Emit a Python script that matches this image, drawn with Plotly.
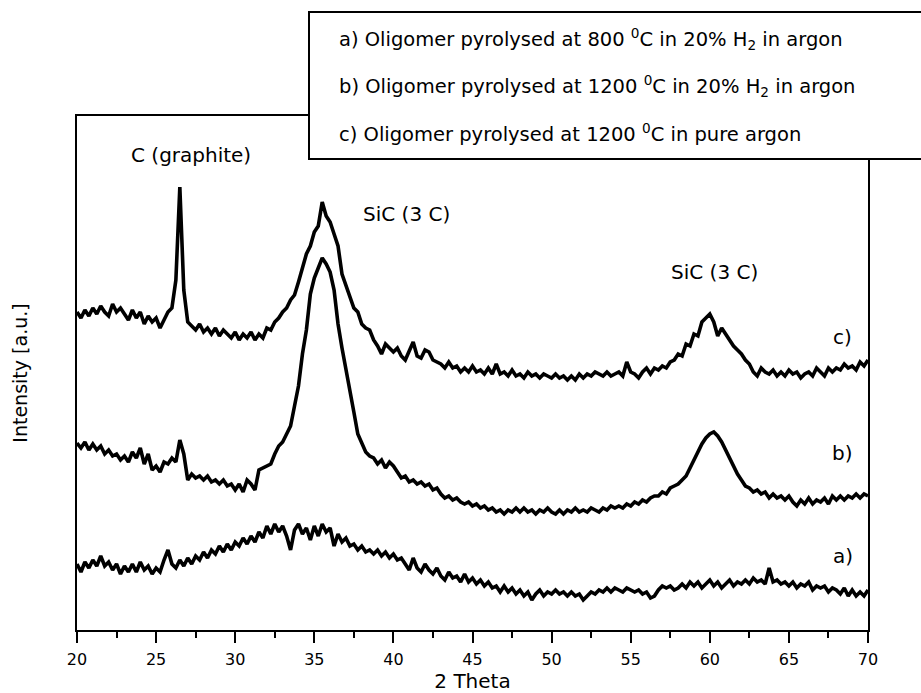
import plotly.graph_objects as go

# 2-theta grid start/step (degrees)
two_theta_start = 20.0
two_theta_step = 0.25

# c) Oligomer pyrolysed at 1200 C in pure argon (offset curve, a.u.)
intensity_c = [
    318, 312, 320, 314, 322, 316, 324, 318, 314, 326, 318, 322, 316, 310, 320, 312,
    318, 306, 314, 308, 312, 302, 310, 318, 322, 350, 443, 340, 308, 304, 300, 306,
    298, 302, 296, 302, 294, 300, 296, 292, 298, 290, 296, 292, 298, 290, 296, 292,
    302, 300, 308, 312, 318, 322, 330, 335, 348, 362, 376, 384, 398, 404, 428, 414,
    408, 396, 384, 356, 344, 332, 322, 318, 306, 302, 300, 290, 284, 276, 286, 282,
    278, 282, 274, 270, 280, 288, 274, 272, 280, 278, 270, 268, 266, 262, 268, 262,
    264, 258, 262, 258, 264, 258, 260, 256, 262, 256, 266, 256, 258, 254, 260, 254,
    256, 252, 258, 254, 256, 252, 256, 254, 252, 256, 252, 254, 250, 254, 250, 256,
    252, 256, 254, 258, 256, 254, 258, 254, 256, 258, 254, 268, 258, 256, 252, 258,
    262, 256, 262, 260, 264, 262, 268, 270, 276, 274, 286, 284, 296, 294, 308, 312,
    316, 308, 294, 302, 296, 290, 284, 280, 276, 270, 266, 258, 254, 262, 258, 256,
    260, 254, 258, 254, 260, 256, 258, 252, 256, 258, 254, 262, 258, 254, 262, 258,
    262, 260, 266, 262, 264, 260, 268, 264, 270,
]

# b) Oligomer pyrolysed at 1200 C in 20% H2 in argon
intensity_b = [
    187, 182, 188, 180, 186, 180, 184, 176, 180, 174, 176, 170, 174, 168, 178, 172,
    182, 166, 176, 160, 164, 158, 168, 166, 172, 168, 190, 176, 150, 156, 152, 154,
    150, 154, 148, 150, 146, 150, 144, 146, 140, 146, 138, 150, 146, 140, 160, 162,
    164, 166, 176, 184, 188, 196, 204, 224, 244, 276, 300, 336, 352, 362, 372, 366,
    358, 340, 306, 282, 262, 242, 218, 196, 186, 178, 174, 172, 166, 170, 162, 168,
    164, 158, 152, 154, 148, 150, 146, 148, 144, 146, 140, 142, 136, 132, 134, 130,
    132, 128, 126, 128, 124, 126, 122, 124, 120, 122, 118, 120, 116, 120, 118, 122,
    118, 122, 118, 120, 116, 120, 118, 122, 118, 116, 120, 116, 120, 118, 122, 118,
    120, 118, 122, 120, 118, 122, 120, 124, 122, 124, 122, 126, 124, 128, 126, 130,
    128, 132, 134, 134, 138, 136, 142, 144, 146, 150, 154, 162, 170, 178, 186, 192,
    196, 198, 194, 188, 180, 172, 166, 156, 150, 144, 142, 138, 140, 136, 138, 132,
    136, 132, 134, 130, 134, 128, 124, 130, 126, 132, 126, 130, 128, 132, 126, 134,
    130, 134, 130, 134, 132, 136, 132, 136, 134,
]

# a) Oligomer pyrolysed at 800 C in 20% H2 in argon
intensity_a = [
    66, 58, 68, 62, 70, 64, 74, 64, 68, 60, 66, 56, 64, 58, 66, 58,
    68, 60, 64, 56, 62, 58, 70, 80, 66, 62, 70, 64, 72, 66, 74, 70,
    78, 72, 80, 76, 84, 78, 86, 80, 88, 84, 92, 86, 94, 88, 98, 92,
    104, 96, 106, 98, 104, 94, 80, 100, 106, 96, 102, 90, 104, 94, 106, 98,
    102, 84, 96, 88, 92, 84, 86, 80, 84, 78, 80, 76, 80, 74, 78, 72,
    76, 70, 72, 66, 60, 72, 62, 58, 66, 60, 56, 62, 54, 50, 58, 52,
    54, 48, 56, 48, 52, 46, 50, 44, 48, 42, 44, 38, 44, 38, 42, 36,
    40, 34, 38, 30, 36, 40, 34, 38, 36, 40, 36, 38, 34, 38, 34, 36,
    30, 34, 38, 36, 40, 38, 42, 38, 42, 40, 38, 42, 40, 38, 40, 36,
    38, 32, 34, 40, 44, 42, 44, 40, 42, 46, 42, 48, 44, 48, 42, 46,
    50, 44, 48, 42, 46, 50, 44, 48, 46, 50, 46, 52, 48, 50, 46, 62,
    48, 50, 46, 48, 44, 48, 42, 46, 44, 48, 40, 44, 42, 44, 38, 42,
    40, 36, 42, 34, 40, 34, 38, 34, 40,
]

legend_lines = [
    "a) Oligomer pyrolysed at 800 <sup>0</sup>C in 20% H<sub>2</sub> in argon",
    "b) Oligomer pyrolysed at 1200 <sup>0</sup>C in 20% H<sub>2</sub> in argon",
    "c) Oligomer pyrolysed at 1200 <sup>0</sup>C in pure argon",
]
curve_labels = ["a)", "b)", "c)"]
peak_labels = ["C (graphite)", "SiC (3 C)", "SiC (3 C)"]
x_ticks = [20, 25, 30, 35, 40, 45, 50, 55, 60, 65, 70]


def grid(n):
    return [two_theta_start + two_theta_step * i for i in range(n)]


FONT = "DejaVu Sans, Arial, sans-serif"
fig = go.Figure()
for ys in (intensity_a, intensity_b, intensity_c):
    fig.add_trace(go.Scatter(x=grid(len(ys)), y=ys, mode="lines",
                             line=dict(color="black", width=3.6),
                             showlegend=False, hoverinfo="skip"))

# plot area in pixels: x 77..868, y 116..630
L, R, T, B = 77, 868, 116, 630
W, H = R - L, B - T


def px(xp):
    return (xp - L) / W


def py(yp):
    return (B - yp) / H


annotations = []
# in-plot labels (data coordinates)
annotations.append(dict(x=27.2, y=630 - 155, text=peak_labels[0]))
annotations.append(dict(x=40.8, y=630 - 214, text=peak_labels[1]))
annotations.append(dict(x=60.3, y=630 - 272, text=peak_labels[2]))
annotations.append(dict(x=68.4, y=630 - 556, text=curve_labels[0]))
annotations.append(dict(x=68.4, y=630 - 453, text=curve_labels[1]))
annotations.append(dict(x=68.4, y=630 - 337, text=curve_labels[2]))
for a in annotations:
    a.update(xref="x", yref="y", showarrow=False,
             font=dict(family=FONT, size=20, color="black"))

for i, (txt, yp) in enumerate(zip(legend_lines, [39, 86, 133])):
    annotations.append(dict(x=px(337), y=py(yp), xref="paper", yref="paper",
                            text=txt, showarrow=False, xanchor="left",
                            yanchor="middle",
                            font=dict(family=FONT, size=19.5, color="black")))

fig.update_layout(
    width=921, height=693,
    margin=dict(l=L, r=921 - R, t=T, b=693 - B),
    paper_bgcolor="white", plot_bgcolor="white",
    font=dict(family=FONT, color="black"),
    annotations=annotations,
    shapes=[dict(type="rect", xref="paper", yref="paper",
                 x0=px(309), x1=px(930), y0=py(159), y1=py(12),
                 fillcolor="white", line=dict(color="black", width=2),
                 layer="above")],
    xaxis=dict(range=[20, 70], tickvals=x_ticks, ticks="outside", ticklen=11,
               tickwidth=2, tickcolor="black", showline=True, linewidth=2,
               linecolor="black", mirror=True, showgrid=False, zeroline=False,
               ticklabelstandoff=3, automargin=False,
               tickfont=dict(family=FONT, size=16, color="black"),
               minor=dict(dtick=2.5, tick0=20, ticks="outside", ticklen=6,
                          tickwidth=2, tickcolor="black", showgrid=False),
               title=dict(text="2 Theta", standoff=4,
                          font=dict(family=FONT, size=20, color="black"))),
    yaxis=dict(range=[0, 514], showticklabels=False, ticks="", showline=True,
               linewidth=2, linecolor="black", mirror=True, showgrid=False,
               zeroline=False, automargin=False,
               title=dict(text="Intensity [a.u.]", standoff=42,
                          font=dict(family=FONT, size=19, color="black"))),
)

fig.write_html("out.html")
